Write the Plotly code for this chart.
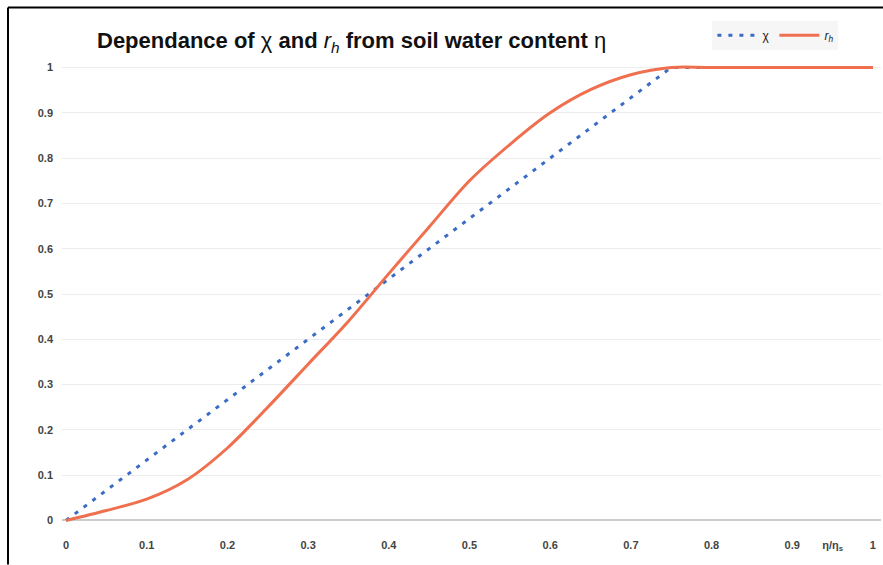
import plotly.graph_objects as go

# data
eta = [0.0, 0.75, 1.0]
chi = [0.0, 1.0, 1.0]

eta_r = [0.0, 0.05, 0.1, 0.15, 0.2, 0.25, 0.3, 0.35, 0.4, 0.45, 0.5, 0.55, 0.6, 0.65, 0.7, 0.75, 0.8, 1.0]
r_h = [0.0, 0.022, 0.047, 0.09, 0.16, 0.25, 0.345, 0.44, 0.545, 0.648, 0.75, 0.83, 0.9, 0.951, 0.984, 1.0, 1.0, 1.0]

x_tickvals = [0, 0.1, 0.2, 0.3, 0.4, 0.5, 0.6, 0.7, 0.8, 0.9, 0.95, 1.0]
x_ticktext = ["0", "0.1", "0.2", "0.3", "0.4", "0.5", "0.6", "0.7", "0.8", "0.9", "η/η<sub>s</sub>", "1"]
y_tickvals = [0, 0.1, 0.2, 0.3, 0.4, 0.5, 0.6, 0.7, 0.8, 0.9, 1.0]
y_ticktext = ["0", "0.1", "0.2", "0.3", "0.4", "0.5", "0.6", "0.7", "0.8", "0.9", "1"]

BLUE = "#3a6cc6"
ORANGE = "#ef6f4f"
FONT = "Liberation Sans, Arial, sans-serif"

fig = go.Figure()
fig.add_trace(go.Scatter(x=eta, y=chi, mode="lines", name="χ",
                         line=dict(color=BLUE, width=3, dash="4px,7px")))
fig.add_trace(go.Scatter(x=eta_r, y=r_h, mode="lines", name="<i>r<sub>h</sub></i>",
                         line=dict(color=ORANGE, width=3, shape="spline", smoothing=0.9)))

fig.update_layout(
    width=883, height=565,
    paper_bgcolor="white", plot_bgcolor="white",
    margin=dict(l=62, r=2, t=63, b=40),
    font=dict(family=FONT, size=11, color="#333"),
    showlegend=True,
    legend=dict(orientation="h", x=0.948, xanchor="right", y=1.06, yanchor="middle",
                bgcolor="rgba(244,244,244,0.8)", font=dict(size=12, color="#222"),
                itemwidth=40),
    xaxis=dict(range=[-0.005, 1.01], tickvals=x_tickvals,
               ticktext=["<b>%s</b>" % t for t in x_ticktext],
               showgrid=False, zeroline=False, showline=False, ticks="",
               ticklabelstandoff=12,
               tickfont=dict(size=11, color="#444")),
    yaxis=dict(range=[-0.01, 1.01], tickvals=y_tickvals,
               ticktext=["<b>%s</b>" % t for t in y_ticktext],
               showgrid=True, gridcolor="#ececec", gridwidth=1, zeroline=True,
               zerolinecolor="#cccccc", zerolinewidth=2, showline=False, ticks="",
               ticklabelstandoff=8,
               tickfont=dict(size=11, color="#444")),
)

fig.add_annotation(
    text="<b>Dependance of </b>χ<b> and </b><i>r<sub>h</sub></i><b> from soil water content </b>η",
    xref="paper", yref="paper", x=(95 - 62) / 819, y=(525.5 - 43) / 462,
    xanchor="left", yanchor="middle", showarrow=False,
    font=dict(family=FONT, size=22, color="#111"),
)

# outer frame (top and left black border)
fig.add_shape(type="line", xref="paper", yref="paper",
              x0=(8 - 62) / 819, x1=(883 - 62) / 819,
              y0=(525.5 - 8) / 462, y1=(525.5 - 8) / 462,
              line=dict(color="black", width=2))
fig.add_shape(type="line", xref="paper", yref="paper",
              x0=(8 - 62) / 819, x1=(8 - 62) / 819,
              y0=(525.5 - 8) / 462, y1=(525.5 - 565) / 462,
              line=dict(color="black", width=2))

fig.write_html("out.html", config={"displayModeBar": False},
               post_script="document.body.style.margin='0px';")
